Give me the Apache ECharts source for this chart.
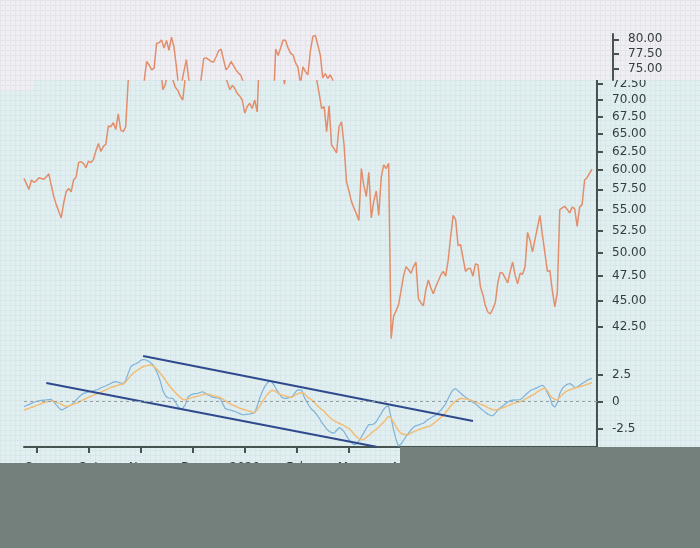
<!DOCTYPE html>
<html><head><meta charset="utf-8">
<script src="https://cdn.jsdelivr.net/npm/echarts@6/dist/echarts.min.js"></script>
<style>html,body{margin:0;padding:0;background:#e2eff0}#c{width:700px;height:548px}</style>
</head><body><div id="c"></div>
<script>
// ---- data ----
const monthLabels = ['Sep','Oct','Nov','Dec','2020','Feb','Mar','Apr','May','Jun','Jul'];
const priceTicks = [42.5,45,47.5,50,52.5,55,57.5,60,62.5,65,67.5,70,72.5];
const priceTicksTop = [75,77.5,80];
const macdTicks = [-2.5,0,2.5];
const price = [
58.9,58.2,57.5,58.7,58.4,58.6,59.0,58.9,58.8,59.1,
59.5,58.0,56.6,55.6,54.8,54.0,55.8,57.2,57.6,57.2,
58.7,59.1,61.0,61.1,60.9,60.3,61.2,61.0,61.4,62.6,
63.6,62.5,63.2,63.5,66.1,66.0,66.6,65.6,67.9,65.5,
65.3,66.0,73.0,76.2,75.6,74.8,75.1,79.3,79.4,79.9,
78.5,79.8,78.1,80.4,78.7,75.3,71.6,72.5,74.5,76.5,
73.2,72.0,71.5,70.6,70.0,73.5,76.7,76.8,76.5,76.2,
76.1,77.0,78.0,78.3,76.5,74.8,75.3,76.2,75.5,74.8,
74.3,73.9,72.8,71.6,72.3,71.8,71.0,70.6,70.0,68.0,
69.0,69.5,68.7,70.0,68.2,78.3,77.2,78.5,79.9,79.8,
78.5,77.6,77.3,76.0,75.2,72.5,75.3,74.5,74.0,78.0,
80.5,80.7,79.0,77.3,73.5,74.2,73.4,74.0,73.2,71.0,
68.7,69.0,65.3,69.1,63.4,62.9,62.3,66.0,66.7,63.5,
58.5,57.3,56.0,55.2,54.5,53.7,60.2,58.0,56.6,59.7,
54.0,56.0,57.3,54.3,59.0,60.7,60.2,60.9,41.4,43.5,
44.0,44.6,46.0,47.5,48.5,48.2,47.8,48.5,49.0,45.2,
44.8,44.5,46.1,47.1,46.3,45.7,46.4,47.0,47.6,48.0,
47.5,49.2,51.8,54.3,53.8,50.8,50.9,49.4,48.0,48.3,
48.3,47.5,48.8,48.7,46.4,45.6,44.5,43.9,43.7,44.2,
44.8,46.8,47.9,47.8,47.3,46.8,48.0,49.0,47.6,46.7,
47.8,47.7,48.5,52.3,51.4,50.1,51.5,52.9,54.3,52.0,
50.0,48.0,48.1,46.0,44.4,45.8,55.0,55.2,55.4,55.0,
54.6,55.3,55.1,53.0,55.3,55.6,58.7,59.0,59.6,60.1
];
const macd = [
-0.46,-0.35,-0.25,-0.15,-0.05,0.02,0.08,0.12,0.14,0.16,
0.2,0.22,0.0,-0.3,-0.55,-0.76,-0.68,-0.55,-0.42,-0.3,
-0.08,0.16,0.4,0.6,0.77,0.83,0.9,0.95,1.0,1.08,
1.15,1.28,1.38,1.45,1.58,1.68,1.8,1.84,1.78,1.72,
1.66,1.95,2.61,3.2,3.4,3.47,3.6,3.8,3.88,3.86,
3.75,3.6,3.4,3.0,2.5,1.85,1.0,0.55,0.35,0.32,
0.3,0.0,-0.42,-0.65,-0.6,-0.3,0.4,0.6,0.7,0.74,
0.77,0.85,0.92,0.8,0.65,0.55,0.42,0.38,0.34,0.31,
-0.15,-0.61,-0.7,-0.76,-0.82,-0.9,-1.0,-1.1,-1.2,-1.2,
-1.15,-1.13,-1.07,-1.01,-0.4,0.31,0.9,1.38,1.7,1.93,
1.8,1.45,1.05,0.7,0.4,0.3,0.31,0.38,0.45,0.75,
1.05,1.1,1.05,0.4,0.0,-0.4,-0.7,-0.9,-1.2,-1.5,
-1.9,-2.2,-2.5,-2.72,-2.85,-2.9,-2.65,-2.38,-2.5,-2.75,
-3.15,-3.5,-3.75,-3.95,-3.9,-3.6,-3.25,-2.85,-2.45,-2.1,
-2.12,-2.05,-1.85,-1.45,-1.1,-0.7,-0.45,-0.4,-1.5,-2.6,
-3.5,-4.1,-3.9,-3.55,-3.2,-2.9,-2.6,-2.35,-2.2,-2.15,
-2.05,-1.98,-1.8,-1.62,-1.5,-1.35,-1.25,-1.0,-0.8,-0.5,
-0.2,0.3,0.75,1.1,1.2,1.0,0.8,0.6,0.42,0.25,
0.12,-0.05,-0.2,-0.4,-0.6,-0.8,-0.98,-1.15,-1.25,-1.3,
-1.05,-0.8,-0.55,-0.4,-0.2,-0.05,0.1,0.16,0.15,0.18,
0.2,0.35,0.6,0.8,1.0,1.12,1.2,1.3,1.42,1.52,
1.3,0.8,0.4,-0.3,-0.5,-0.1,0.75,1.2,1.45,1.6,
1.68,1.55,1.3,1.35,1.52,1.68,1.82,1.98,2.08,2.15
];
const signal = [
-0.76,-0.68,-0.6,-0.52,-0.45,-0.36,-0.27,-0.17,-0.08,-0.02,
0.03,0.06,0.05,-0.05,-0.13,-0.22,-0.35,-0.45,-0.4,-0.3,
-0.22,-0.15,-0.05,0.07,0.18,0.3,0.4,0.5,0.6,0.7,
0.8,0.88,0.98,1.08,1.2,1.3,1.38,1.45,1.52,1.58,
1.63,1.8,2.1,2.4,2.62,2.8,2.95,3.1,3.22,3.3,
3.36,3.38,3.3,3.12,2.9,2.6,2.32,2.0,1.65,1.35,
1.1,0.85,0.6,0.4,0.22,0.16,0.25,0.33,0.4,0.45,
0.5,0.58,0.65,0.7,0.71,0.65,0.57,0.5,0.45,0.4,
0.25,0.1,-0.05,-0.18,-0.3,-0.4,-0.5,-0.6,-0.68,-0.74,
-0.8,-0.88,-0.96,-1.0,-0.75,-0.4,-0.05,0.3,0.65,0.9,
1.05,1.0,0.85,0.7,0.62,0.55,0.48,0.42,0.4,0.55,
0.7,0.8,0.83,0.75,0.5,0.3,0.18,-0.05,-0.3,-0.52,
-0.7,-0.9,-1.15,-1.38,-1.6,-1.75,-1.88,-1.98,-2.08,-2.2,
-2.35,-2.45,-2.7,-2.98,-3.22,-3.4,-3.52,-3.45,-3.3,-3.1,
-2.9,-2.72,-2.55,-2.35,-2.1,-1.9,-1.6,-1.35,-1.5,-1.9,
-2.3,-2.65,-2.9,-3.0,-3.05,-3.02,-2.9,-2.78,-2.68,-2.58,
-2.5,-2.42,-2.35,-2.28,-2.2,-2.02,-1.85,-1.65,-1.45,-1.3,
-1.0,-0.7,-0.4,-0.15,0.05,0.2,0.3,0.3,0.25,0.2,
0.16,0.08,-0.02,-0.12,-0.22,-0.3,-0.42,-0.55,-0.65,-0.74,
-0.76,-0.72,-0.65,-0.56,-0.47,-0.38,-0.28,-0.18,-0.1,-0.03,
0.0,0.1,0.22,0.35,0.48,0.6,0.75,0.9,1.05,1.18,
1.23,1.0,0.6,0.35,0.22,0.16,0.4,0.65,0.85,1.0,
1.1,1.18,1.25,1.3,1.38,1.45,1.52,1.6,1.68,1.75
];
const channelUpper = [[48, 4.2], [181, -1.78]];
const channelLower = [[9, 1.72], [142, -4.15]];
const categories = [];
for (let i = 0; i < price.length + 2; i++) categories.push(String(i));

// ---- styling helpers ----
const FIRST_TICK = 5, TICK_STEP = 21;
const tickAt = (idx) => idx >= FIRST_TICK && (idx - FIRST_TICK) % TICK_STEP === 0;
function makePattern(bg, line, size) {
  const c = document.createElement('canvas');
  c.width = size; c.height = size;
  const g = c.getContext('2d');
  g.fillStyle = bg; g.fillRect(0, 0, size, size);
  g.fillStyle = line; g.fillRect(0, 0, size, 1); g.fillRect(0, 0, 1, size);
  return c;
}
const cyanPat = makePattern('#e2eff0', '#d8e8ea', 5);
const lavPat = makePattern('#efeef3', '#e6e4eb', 5);
const AX = '#46534f';
const LAB = { color: '#323d3f', fontSize: 12, fontFamily: 'DejaVu Sans', margin: 15 };

const chart = echarts.init(document.getElementById('c'), null, { renderer: 'canvas' });
chart.setOption({
  animation: false,
  backgroundColor: '#e2eff0',
  graphic: [
    { type: 'rect', z: -10, silent: true, shape: { x: 0, y: 0, width: 700, height: 548 }, style: { fill: { image: cyanPat, repeat: 'repeat' } } },
    { type: 'rect', z: 5, silent: true, shape: { x: 0, y: 0, width: 700, height: 80 }, style: { fill: { image: lavPat, repeat: 'repeat' } } },
    { type: 'rect', z: 5, silent: true, shape: { x: 0, y: 80, width: 33, height: 11 }, style: { fill: { image: lavPat, repeat: 'repeat' } } },
    { type: 'rect', z: 20, silent: true, shape: { x: 0, y: 463, width: 400, height: 85 }, style: { fill: '#74807c' } },
    { type: 'rect', z: 20, silent: true, shape: { x: 400, y: 447, width: 300, height: 101 }, style: { fill: '#74807c' } }
  ],
  grid: [
    { left: 24, right: 103, top: 80, bottom: 203 },
    { left: 24, right: 103, top: 345, bottom: 101 },
    { left: 40, right: 87, top: 34, bottom: 468 }
  ],
  xAxis: [
    { type: 'category', gridIndex: 0, data: categories, boundaryGap: false, show: false },
    { type: 'category', gridIndex: 1, data: categories, boundaryGap: false, position: 'bottom',
      axisLine: { onZero: false, lineStyle: { color: AX, width: 2 } },
      axisTick: { interval: tickAt, length: 6, lineStyle: { color: AX, width: 2 } },
      axisLabel: Object.assign({}, LAB, { interval: tickAt,
        formatter: (v, idx) => monthLabels[(idx - FIRST_TICK) / TICK_STEP] || '' }),
      splitLine: { show: false } },
    { type: 'category', gridIndex: 2, data: categories, boundaryGap: false, show: false }
  ],
  yAxis: [
    { type: 'log', gridIndex: 0, position: 'right', min: 40.82, max: 73.154,
      axisLine: { show: true, lineStyle: { color: AX, width: 2 } },
      axisTick: { show: true, length: 6, customValues: priceTicks, lineStyle: { color: AX, width: 2 } },
      axisLabel: Object.assign({}, LAB, { customValues: priceTicks, formatter: v => Number(v).toFixed(2) }),
      splitLine: { show: false }, minorSplitLine: { show: false } },
    { type: 'value', gridIndex: 1, position: 'right', min: -4.17, max: 5.22,
      axisLine: { show: true, lineStyle: { color: AX, width: 2 } },
      axisTick: { show: true, length: 6, customValues: macdTicks, lineStyle: { color: AX, width: 2 } },
      axisLabel: Object.assign({}, LAB, { customValues: macdTicks }),
      splitLine: { show: false } },
    { type: 'log', gridIndex: 2, position: 'right', min: 73.154, max: 80.945, z: 6,
      axisLine: { show: true, lineStyle: { color: AX, width: 2 } },
      axisTick: { show: true, length: 6, customValues: priceTicksTop, lineStyle: { color: AX, width: 2 } },
      axisLabel: Object.assign({}, LAB, { customValues: priceTicksTop, formatter: v => Number(v).toFixed(2) }),
      splitLine: { show: false }, minorSplitLine: { show: false } }
  ],
  series: [
    { type: 'line', xAxisIndex: 0, yAxisIndex: 0, data: price, showSymbol: false, z: 2,
      lineStyle: { color: '#e38e6b', width: 1.5 } },
    { type: 'line', xAxisIndex: 2, yAxisIndex: 2, data: price, showSymbol: false, z: 7,
      lineStyle: { color: '#e38e6b', width: 1.5 } },
    { type: 'line', xAxisIndex: 1, yAxisIndex: 1, data: macd, showSymbol: false, z: 3,
      lineStyle: { color: '#7db2da', width: 1.2 },
      markLine: { silent: true, symbol: 'none', label: { show: false },
        lineStyle: { color: '#939fa1', type: [3, 3], width: 1 }, data: [{ yAxis: 0 }] } },
    { type: 'line', xAxisIndex: 1, yAxisIndex: 1, data: signal, showSymbol: false, z: 3,
      lineStyle: { color: '#f1bd78', width: 1.5 } },
    { type: 'line', xAxisIndex: 1, yAxisIndex: 1, data: channelUpper, showSymbol: false, z: 4,
      lineStyle: { color: '#2e4a8d', width: 2 } },
    { type: 'line', xAxisIndex: 1, yAxisIndex: 1, data: channelLower, showSymbol: false, z: 4,
      lineStyle: { color: '#2e4a8d', width: 2 } }
  ]
});
</script></body></html>
